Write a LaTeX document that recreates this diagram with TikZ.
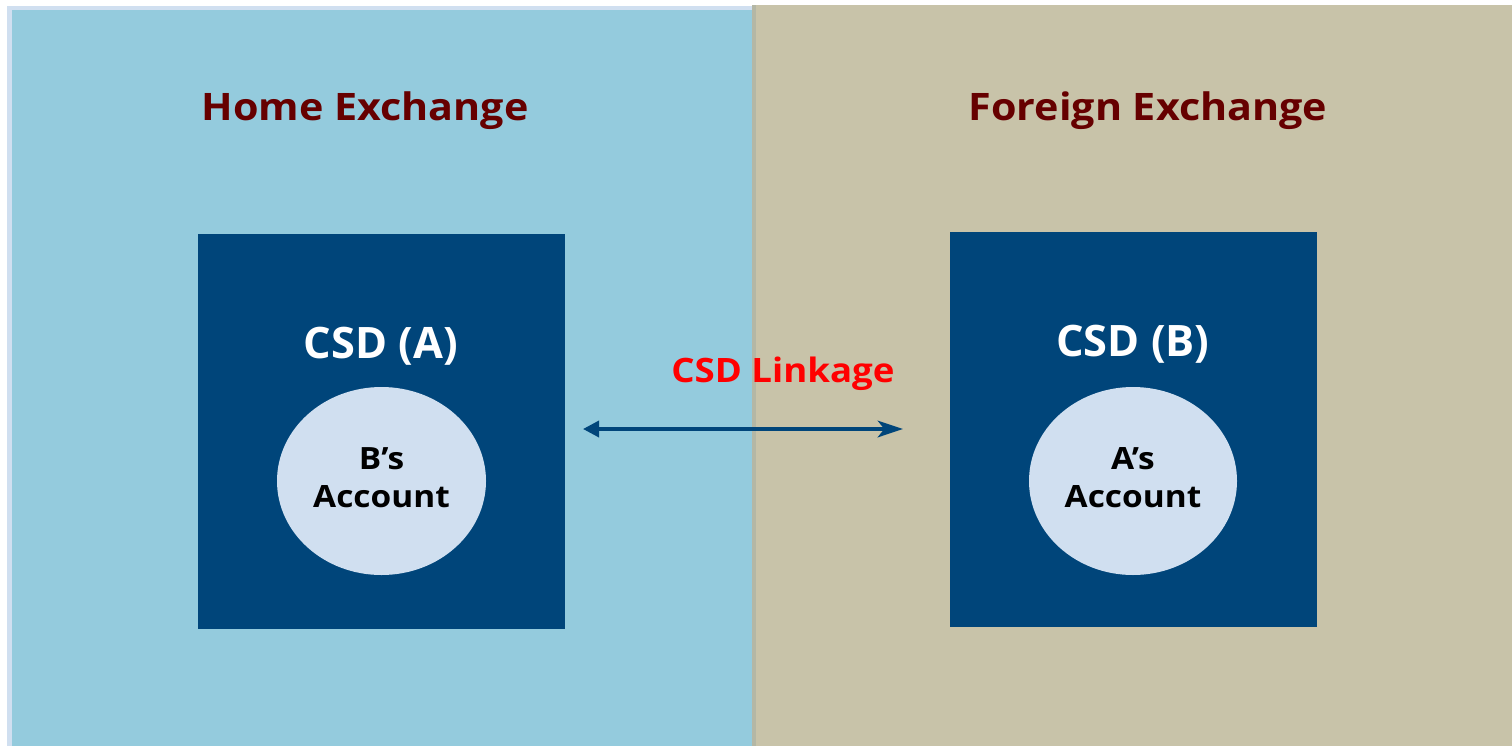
\documentclass[tikz,border=0pt]{standalone}
\usepackage{fontspec}
\setmainfont{Open Sans}
\newfontfamily\widefont[FakeStretch=1.09]{Open Sans}
\usetikzlibrary{arrows.meta}
\definecolor{homebg}{HTML}{94CBDD}
\definecolor{frame}{HTML}{D0DFF0}
\definecolor{forbg}{HTML}{C8C3A9}
\definecolor{divline}{HTML}{B4B7A5}
\definecolor{csdblue}{HTML}{00457A}
\definecolor{acct}{HTML}{D0DFF0}
\definecolor{titlered}{HTML}{660000}
\tikzset{
  title/.style={anchor=base, inner sep=0pt, text=titlered, font=\widefont\bfseries\fontsize{28.4}{34}\selectfont},
  csdbox/.style={fill=csdblue, draw=none},
  csdlabel/.style={anchor=base, inner sep=0pt, text=white, font=\bfseries\fontsize{32.5}{39}\selectfont},
  acctlabel/.style={anchor=base, inner sep=0pt, text=black, font=\widefont\bfseries\fontsize{23}{28}\selectfont},
  linklabel/.style={anchor=base, inner sep=0pt, text=red, font=\widefont\bfseries\fontsize{25.2}{30}\selectfont},
  link/.style={draw=csdblue, line width=2.6pt, {Triangle[length=12pt,width=12pt]}-{Stealth[length=19pt,width=12.5pt,inset=5pt]}}
}
\begin{document}
\begin{tikzpicture}[x=0.75pt,y=-0.75pt]
\useasboundingbox (0,0) rectangle (1512,746);
\fill[white] (0,0) rectangle (1512,746);
% panels
\fill[frame] (7,6) rectangle (752,746);
\fill[homebg] (12,10) rectangle (752,746);
\fill[forbg] (752,5) rectangle (1512,746);
\fill[divline] (752,5) rectangle (756,746);
% titles
\node[title] (home) at (365,120) {Home Exchange};
\node[title] (foreign) at (1148,120) {Foreign Exchange};
% CSD boxes
\fill[csdbox] (198,234) rectangle (565,629);
\fill[csdbox] (950,232) rectangle (1317,627);
\node[csdlabel] (csdA) at (381,358) {CSD (A)};
\node[csdlabel] (csdB) at (1133,356) {CSD (B)};
% accounts
\fill[acct] (381.5,481) ellipse [x radius=104.5, y radius=94];
\fill[acct] (1133,481) ellipse [x radius=104, y radius=94];
\node[acctlabel] (bs) at (381.5,469) {B’s};
\node[acctlabel] (acA) at (381.5,507) {Account};
\node[acctlabel] (as) at (1133,469) {A’s};
\node[acctlabel] (acB) at (1133,507) {Account};
% linkage
\node[linklabel] (linklab) at (783,382) {CSD Linkage};
\coordinate (la) at (583,429);
\coordinate (lb) at (903,429);
\draw[link] (la) -- (lb);
\end{tikzpicture}
\end{document}
